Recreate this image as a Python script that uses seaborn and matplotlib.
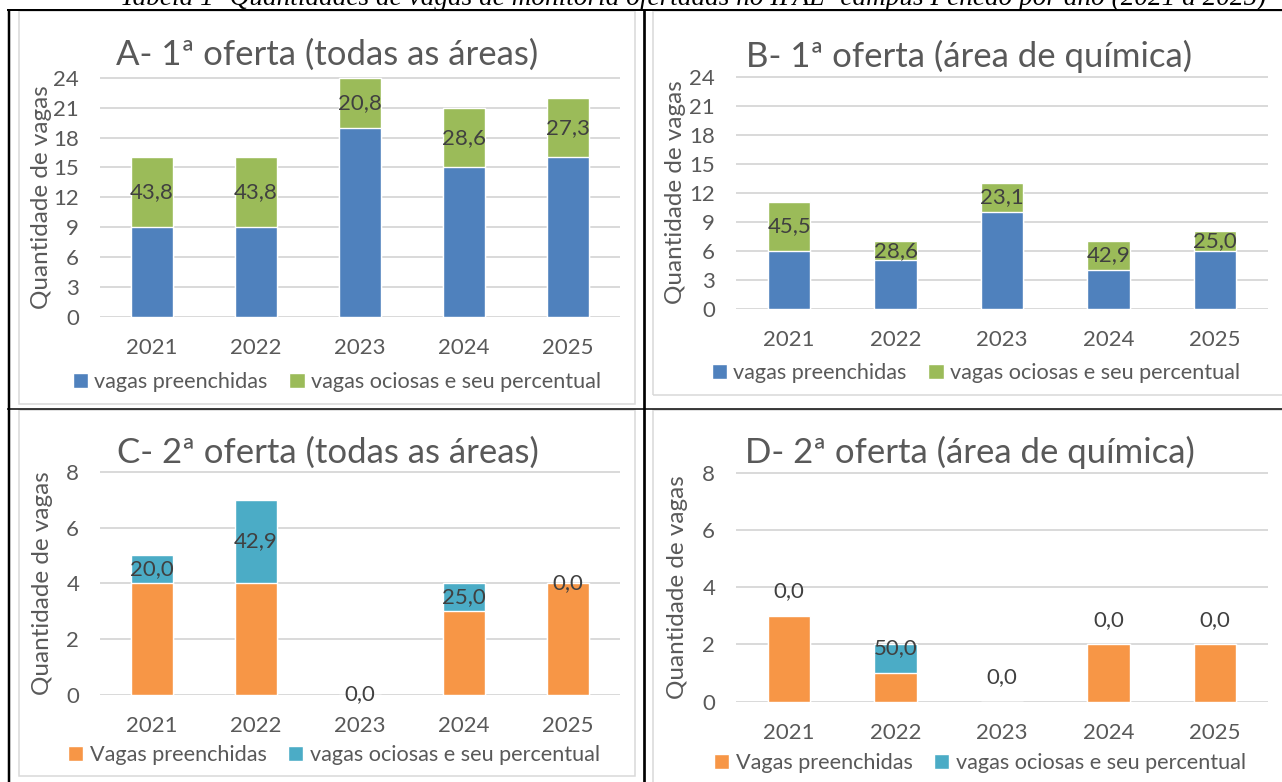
import matplotlib
matplotlib.use("Agg")
import matplotlib.pyplot as plt
import seaborn as sns
import pandas as pd
from matplotlib.patches import Patch, Rectangle
from matplotlib.lines import Line2D

years = ["2021", "2022", "2023", "2024", "2025"]

# A - 1a oferta (todas as areas)
a_filled = [9, 9, 19, 15, 16]
a_idle = [7, 7, 5, 6, 6]
a_pct = ["43,8", "43,8", "20,8", "28,6", "27,3"]

# B - 1a oferta (area de quimica)
b_filled = [6, 5, 10, 4, 6]
b_idle = [5, 2, 3, 3, 2]
b_pct = ["45,5", "28,6", "23,1", "42,9", "25,0"]

# C - 2a oferta (todas as areas)
c_filled = [4, 4, 0, 3, 4]
c_idle = [1, 3, 0, 1, 0]
c_pct = ["20,0", "42,9", "0,0", "25,0", "0,0"]

# D - 2a oferta (area de quimica)
d_filled = [3, 1, 0, 2, 2]
d_idle = [0, 1, 0, 0, 0]
d_pct = ["0,0", "50,0", "0,0", "0,0", "0,0"]

BLUE, GREEN = "#4f81bd", "#9bbb59"
ORANGE, TEAL = "#f79646", "#4bacc6"
GRID = "#d9d9d9"
TXT = "#595959"
LBL = "#404040"

sns.set_style("white")
plt.rcParams["font.family"] = ["Lato", "DejaVu Sans"]

W, H = 1282, 782
fig = plt.figure(figsize=(W / 100, H / 100), dpi=100)
fig.patch.set_facecolor("white")


def fx(x):
    return x / W


def fy(y):
    return 1 - y / H


def px_rect(x0, y0, x1, y1):
    return [fx(x0), fy(y1), (x1 - x0) / W, (y1 - y0) / H]


def line(x0, y0, x1, y1, color, lw_px):
    fig.add_artist(Line2D([fx(x0), fx(x1)], [fy(y0), fy(y1)], color=color,
                          lw=lw_px * 0.72, transform=fig.transFigure,
                          solid_capstyle="butt"))


def box(x0, y0, x1, y1):
    fig.add_artist(Rectangle((fx(x0), fy(y1)), (x1 - x0) / W, (y1 - y0) / H,
                             fill=False, edgecolor=GRID, lw=1.1,
                             transform=fig.transFigure))


# chart-area frames and table borders
box(18.5, 11, 635, 404)
box(653, 11, 1295, 395)
box(18.5, 410, 635, 776)
box(653, 410, 1295, 795)
line(7, 10, 1282, 10, "black", 2)
line(9, 10, 9, 782, "black", 2.5)
line(644, 10, 644, 782, "black", 2.7)
line(7, 408.5, 1282, 408.5, "black", 1.5)

# caption of the table, cut at the top as in the page scan
fig.text(fx(693), fy(5), "Tabela 1- Quantidades de vagas de monitoria ofertadas no "
         "IFAL- campus Penedo por ano (2021 a 2025)",
         family="Liberation Serif", style="italic", fontsize=19.6,
         ha="center", va="baseline", color="black")


def panel(rect, title, title_xy, ylab_x, filled, idle, pct, ymax, ystep,
          col_f, col_i, name_f, legend_xy, mode):
    ax = fig.add_axes(px_rect(*rect))
    df = pd.DataFrame({"ano": years, "preenchidas": filled,
                       "total": [f + i for f, i in zip(filled, idle)]})
    sns.barplot(data=df, x="ano", y="total", color=col_i, width=0.4,
                saturation=1, ax=ax)
    sns.barplot(data=df, x="ano", y="preenchidas", color=col_f, width=0.4,
                saturation=1, ax=ax)
    ax.set_xlim(-0.5, 4.5)
    ax.set_ylim(-0.002 * ymax, ymax * 1.004)
    ax.set_yticks(range(0, ymax + 1, ystep))
    ax.yaxis.grid(True, color=GRID, lw=1.4)
    ax.set_axisbelow(True)
    for s in ax.spines.values():
        s.set_visible(False)
    ax.tick_params(axis="y", length=0, colors=TXT, labelsize=16, pad=15)
    ax.tick_params(axis="x", length=0, colors=TXT, labelsize=16, pad=15)
    ax.set_xlabel("")
    ax.set_ylabel("")
    ax.set_facecolor("none")

    for i, (f, d, p) in enumerate(zip(filled, idle, pct)):
        if mode == "center":
            y = f + d / 2
        else:
            y = f + d + 0.85 * ymax / 8 if d == 0 else f + d - 0.12
        ax.text(i, y, p, ha="center", va="center", fontsize=16, color=LBL)

    y0, y1 = rect[1], rect[3]
    fig.text(fx(ylab_x), fy((y0 + y1) / 2), "Quantidade de vagas", rotation=90,
             ha="center", va="center", fontsize=17.5, color=TXT)
    fig.text(fx(title_xy[0]), fy(title_xy[1]), title, ha="center",
             va="baseline", fontsize=25, color=TXT)
    handles = [Patch(facecolor=col_f), Patch(facecolor=col_i)]
    fig.legend(handles, [name_f, "vagas ociosas e seu percentual"],
               loc="center", bbox_to_anchor=(fx(legend_xy[0]), fy(legend_xy[1])),
               ncol=2, frameon=False, fontsize=15.6, handlelength=0.7,
               handleheight=0.7, handletextpad=0.3, columnspacing=1.0,
               borderpad=0, labelcolor=TXT)


panel((100, 77, 620, 317), "A- 1ª oferta (todas as áreas)", (327, 65), 42,
      a_filled, a_idle, a_pct, 24, 3, BLUE, GREEN, "vagas preenchidas",
      (337, 382), "center")
panel((736, 76, 1268, 309), "B- 1ª oferta (área de química)", (969, 67), 675,
      b_filled, b_idle, b_pct, 24, 3, BLUE, GREEN, "vagas preenchidas",
      (976, 373), "center")
panel((100, 471, 620, 695), "C- 2ª oferta (todas as áreas)", (328, 463), 43,
      c_filled, c_idle, c_pct, 8, 2, ORANGE, TEAL, "Vagas preenchidas",
      (334, 755), "center")
panel((736, 472, 1268, 702), "D- 2ª oferta (área de química)", (970, 463), 677,
      d_filled, d_idle, d_pct, 8, 2, ORANGE, TEAL, "Vagas preenchidas",
      (980, 763), "above")

fig.savefig("out.png", dpi=100)
